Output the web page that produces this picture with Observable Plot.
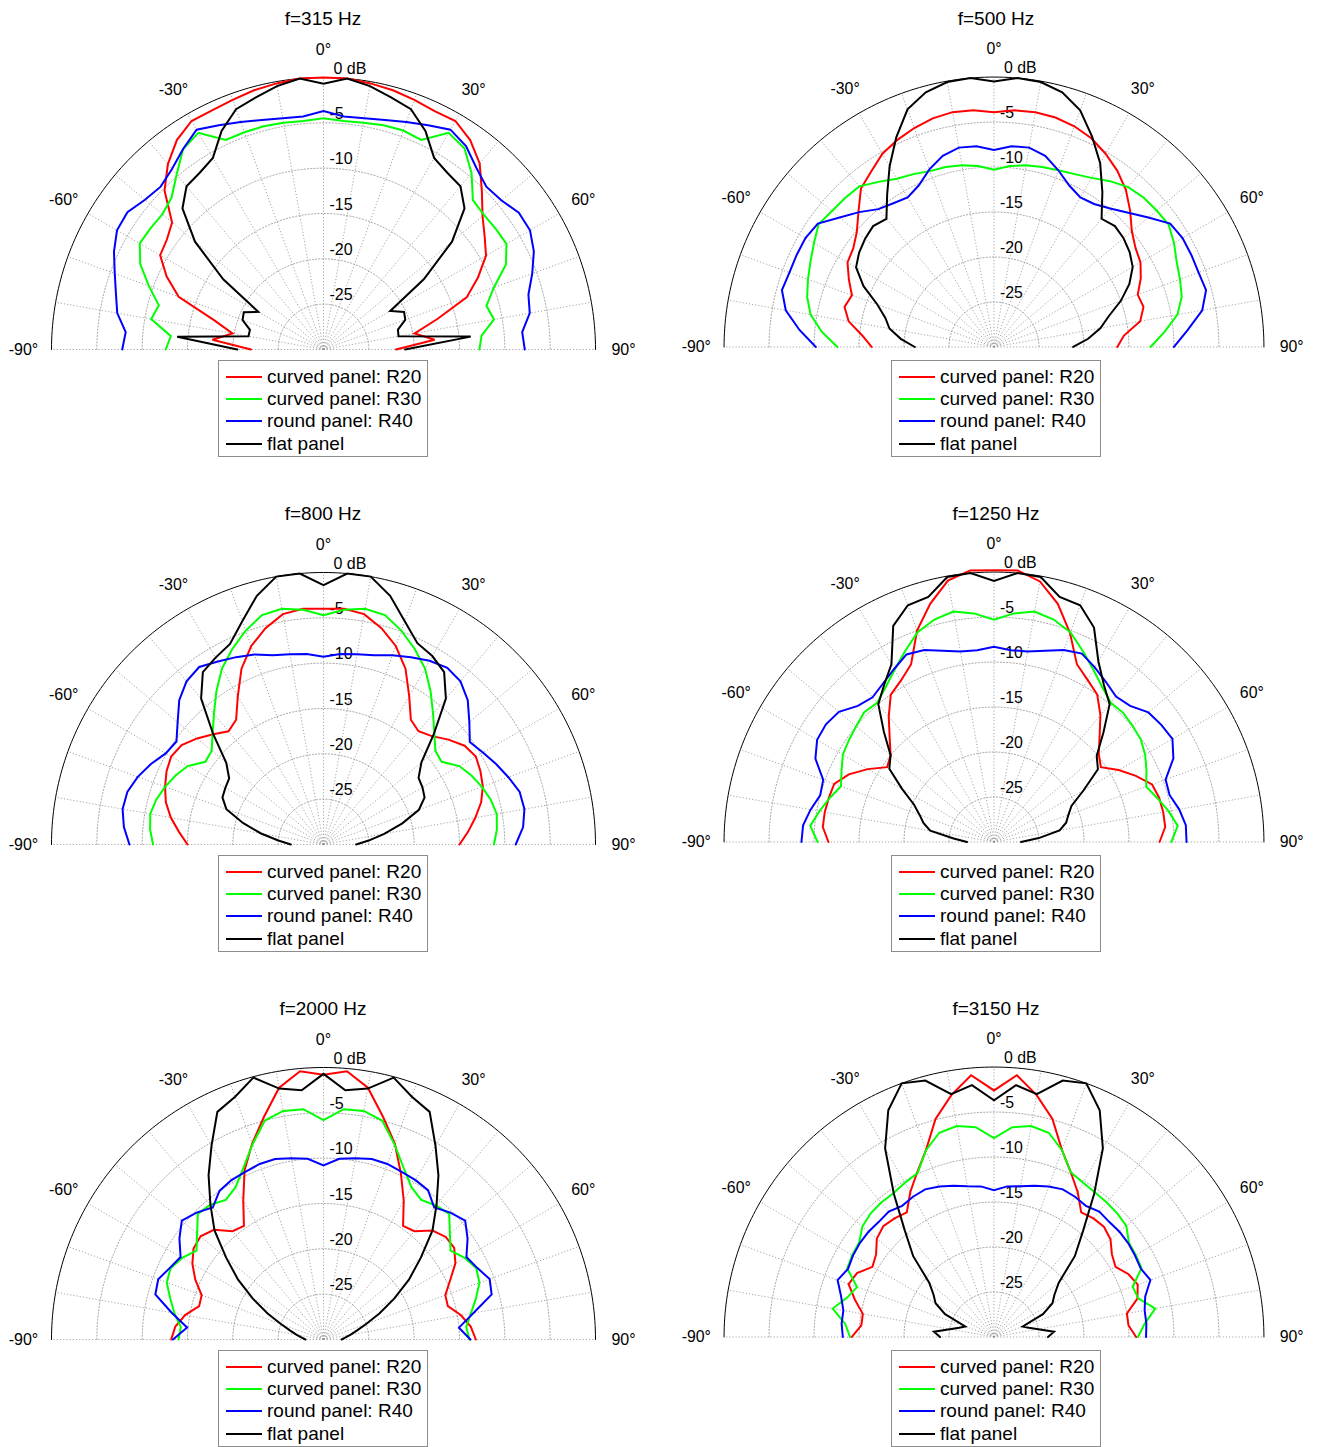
<!DOCTYPE html>
<html>
<head>
<meta charset="utf-8">
<script src="https://cdn.jsdelivr.net/npm/d3@7"></script>
<script src="https://cdn.jsdelivr.net/npm/@observablehq/plot@0.6"></script>
<style>
  html, body { margin: 0; padding: 0; background: #fff; }
  body { font-family: "Liberation Sans", Arial, Helvetica, sans-serif; color: #000; }
  #page { position: relative; width: 1321px; height: 1447px; overflow: hidden; background: #fff; }
  .ptitle { position: absolute; width: 300px; height: 22px; line-height: 22px; font-size: 19px; text-align: center; white-space: nowrap; }
  .pplot { position: absolute; }
  .pplot svg { overflow: visible; }
  .legend { position: absolute; box-sizing: border-box; border: 1px solid #8c8c8c; background: #fff; padding-top: 5px; }
  .legend .row { display: flex; align-items: center; height: 22.4px; font-size: 19px; white-space: nowrap; }
  .legend .sw { display: inline-block; width: 36px; height: 2px; margin-left: 7px; margin-right: 5px; }
</style>
</head>
<body>
<div id="page"></div>
<script>
// ---------------- data ----------------
const angles = [-90,-85,-80,-75,-70,-65,-60,-55,-50,-45,-40,-35,-30,-25,-20,-15,-10,-5,0,5,10,15,20,25,30,35,40,45,50,55,60,65,70,75,80,85,90];
const frequencies = [315, 500, 800, 1250, 2000, 3150];
const seriesNames = ["curved panel: R20", "curved panel: R30", "round panel: R40", "flat panel"];
const seriesColors = ["#ff0000", "#00ff00", "#0000ff", "#000000"];
const spokeAngles = [-90,-80,-70,-60,-50,-40,-30,-20,-10,0,10,20,30,40,50,60,70,80,90];
const ringLevels = [-25, -20, -15, -10, -5];
const outerLevel = [0];
const dBMin = -30;
const ringLabelLevels = [-5, -10, -15, -20, -25];
const ringLabels = ["-5", "-10", "-15", "-20", "-25"];
const topLabel = ["0 dB"];
const angleTickValues = [-90, -60, -30, 0, 30, 60, 90];
const angleTickLabels = ["-90°", "-60°", "-30°", "0°", "30°", "60°", "90°"];

// f = 315 Hz
const f315_R20  = [-22,-17.7,-19.8,-17.5,-13.0,-10.9,-9.2,-8.9,-8.2,-5.2,-3.3,-1.8,-0.9,-0.9,-0.7,-0.4,-0.2,0, 0, 0,-0.2,-0.4,-0.7,-1.0,-0.9,-1.8,-3.2,-5.3,-7.1,-8.3,-9.3,-11.2,-13.2,-17.0,-19.8,-17.7,-22];
const f315_R30  = [-12.6,-13.1,-10.7,-11.2,-9.5,-7.7,-6.6,-6.7,-6.8,-6.3,-4.8,-3.0,-2.4,-4.5,-4.5,-4.5,-4.6,-4.7, -4.5, -4.7,-4.6,-4.4,-4.3,-4.5,-2.4,-2.9,-4.6,-6.7,-6.9,-6.8,-6.7,-7.8,-10.0,-11.4,-10.9,-12.5,-12.8];
const f315_R40  = [-7.8,-8.1,-6.9,-6.3,-5.5,-4.5,-3.7,-3.6,-4.3,-4.6,-4.0,-3.0,-2.0,-2.7,-3.3,-3.8,-4.1,-4.2, -3.7, -4.2,-4.1,-3.8,-3.3,-2.7,-2.0,-2.6,-3.8,-4.6,-4.4,-3.7,-3.7,-4.4,-5.5,-6.6,-6.9,-8.0,-7.8];
const f315_flat = [-20.5,-13.8,-21.6,-21.6,-20.5,-20.3,-21.7,-16.5,-11.5,-8.0,-6.5,-6.2,-5.6,-3.4,-1.8,-1.2,-0.5,0, -0.7, 0,-0.5,-1.2,-1.8,-3.4,-5.6,-6.2,-6.5,-8.0,-11.5,-16.5,-21.5,-20.2,-20.4,-21.5,-21.6,-13.7,-21.0];

// f = 500 Hz
const f500_R20  = [-16.4,-15.3,-13.6,-12.8,-13.2,-12.2,-11.2,-10.9,-10.1,-8.7,-7.0,-6.2,-5.2,-4.6,-4.1,-3.7,-3.5,-3.6, -3.9, -3.6,-3.5,-3.6,-3.9,-4.4,-5.2,-6.1,-7.2,-8.6,-10.0,-10.8,-11.2,-12.0,-13.0,-12.8,-13.5,-15.5,-16.3];
const f500_R30  = [-12.6,-10.8,-9.3,-8.5,-8.0,-7.5,-6.9,-6.2,-6.5,-6.6,-6.7,-7.6,-8.4,-8.8,-9.2,-9.3,-9.5,-9.8, -10.3, -9.8,-9.5,-9.3,-9.1,-8.8,-8.3,-7.5,-6.8,-6.5,-6.4,-6.3,-6.9,-7.6,-8.0,-8.4,-9.3,-11.0,-12.6];
const f500_R40  = [-10.2,-8.3,-6.5,-5.6,-5.8,-5.8,-5.8,-6.1,-7.6,-8.8,-10.0,-10.5,-10.8,-10.2,-9.0,-8.0,-7.5,-7.6, -8.1, -7.6,-7.5,-8.0,-9.1,-10.2,-10.8,-10.6,-9.9,-8.9,-7.6,-6.1,-5.8,-5.8,-5.8,-5.6,-6.5,-8.4,-10.0];
const f500_flat = [-21.2,-19.6,-18.2,-17.5,-16.2,-14.0,-12.3,-11.7,-11.3,-11.0,-11.4,-9.3,-6.8,-4.3,-1.9,-0.7,-0.1,0, -0.5, 0,-0.1,-0.7,-2.0,-4.2,-6.4,-9.0,-11.4,-11.0,-11.2,-11.6,-12.2,-13.4,-15.0,-16.8,-18.0,-19.5,-21.2];

// f = 800 Hz
const f800_R20  = [-15.0,-14.0,-12.9,-12.0,-11.4,-10.9,-10.6,-10.9,-11.8,-12.8,-13.7,-13.2,-11.1,-8.6,-6.7,-5.3,-4.2,-3.9, -4.0, -3.9,-4.2,-5.3,-6.7,-8.6,-11.1,-13.2,-13.7,-13.1,-12.0,-11.0,-10.6,-10.9,-11.3,-12.0,-13.0,-14.0,-15.0];
const f800_R30  = [-11.2,-10.8,-10.6,-10.9,-11.4,-12.0,-12.7,-14.1,-13.9,-12.7,-11.2,-9.4,-7.6,-6.2,-4.9,-3.8,-3.6,-4.0, -4.7, -4.0,-3.6,-3.8,-4.9,-6.2,-7.6,-9.4,-11.2,-12.7,-13.9,-14.1,-12.7,-12.0,-11.4,-10.9,-10.6,-10.8,-11.2];
const f800_R40  = [-8.6,-7.9,-7.5,-7.6,-8.2,-9.0,-9.9,-10.2,-9.0,-7.5,-6.5,-6.1,-6.7,-7.2,-7.7,-8.4,-8.7,-8.9, -9.3, -8.9,-8.7,-8.4,-7.8,-7.2,-6.6,-6.2,-6.5,-7.5,-9.0,-10.3,-9.7,-9.0,-8.3,-7.6,-7.5,-7.9,-8.8];
const f800_flat = [-26.4,-25.0,-23.0,-20.8,-18.6,-17.7,-17.5,-17.3,-16.0,-12.8,-9.0,-6.8,-6.2,-5.6,-3.8,-1.6,0,0, -1.4, 0,0,-1.6,-3.8,-5.5,-6.0,-6.8,-9.0,-12.8,-15.9,-17.2,-17.4,-17.7,-18.8,-21.0,-23.2,-25.0,-26.4];

// f = 1250 Hz
const f1250_R20  = [-11.6,-10.9,-10.9,-11.0,-11.1,-12.2,-13.8,-15.5,-15.0,-13.6,-11.8,-10.0,-9.3,-8.2,-5.0,-2.6,-0.5,0.3, 0.2, 0.3,-0.6,-2.6,-5.3,-8.2,-9.2,-10.0,-11.6,-13.4,-14.8,-15.5,-14.0,-12.6,-11.3,-11.0,-10.9,-10.9,-11.6];
const f1250_R30  = [-10.4,-9.5,-10.3,-11.1,-11.9,-11.3,-10.6,-10.3,-10.0,-9.6,-9.8,-9.0,-7.9,-6.6,-5.2,-4.4,-4.0,-4.5, -5.3, -4.5,-4.0,-4.4,-5.2,-6.6,-7.9,-9.0,-9.8,-9.7,-9.9,-10.1,-10.6,-11.3,-12.0,-11.2,-10.3,-9.5,-10.3];
const f1250_R40  = [-8.6,-8.7,-9.3,-10.0,-9.8,-8.1,-7.3,-7.2,-7.5,-8.6,-9.0,-8.5,-7.8,-7.0,-7.3,-8.0,-8.5,-8.6, -8.3, -8.6,-8.5,-8.0,-7.3,-6.9,-7.6,-8.3,-8.9,-8.6,-7.6,-7.3,-7.1,-8.0,-9.7,-9.8,-9.1,-8.6,-8.6];
const f1250_flat = [-27.0,-25.5,-22.8,-21.9,-21.2,-20.2,-18.2,-15.8,-15.0,-12.7,-10.0,-8.7,-7.2,-3.5,-2.0,-1.8,-0.1,0, -1.0, 0,-0.1,-1.8,-2.0,-3.7,-6.8,-8.7,-10.0,-12.8,-15.1,-15.9,-18.5,-20.5,-21.2,-21.7,-22.6,-25.0,-27.0];

// f = 2000 Hz
const f2000_R20  = [-13.2,-13.6,-14.5,-15.8,-15.7,-14.4,-13.3,-12.5,-12.3,-12.9,-14.4,-14.7,-12.3,-9.4,-7.0,-4.6,-1.8,-0.3, -0.8, -0.3,-1.8,-4.6,-7.0,-9.8,-12.3,-14.7,-14.4,-13.0,-12.4,-12.4,-13.2,-14.6,-15.7,-15.8,-14.6,-13.7,-13.2];
const f2000_R30  = [-14.0,-14.2,-13.3,-12.5,-11.6,-11.4,-12.0,-12.9,-11.8,-10.4,-10.6,-11.2,-10.6,-9.1,-7.1,-5.0,-4.4,-4.5, -5.8, -4.5,-4.4,-5.0,-7.1,-9.1,-10.6,-11.2,-10.7,-10.4,-11.8,-12.9,-12.0,-11.4,-11.7,-12.6,-13.5,-14.2,-13.9];
const f2000_R40  = [-13.4,-14.9,-13.0,-10.8,-10.6,-11.3,-11.8,-10.6,-9.6,-10.2,-11.0,-10.0,-9.7,-9.6,-9.4,-9.4,-9.7,-10.0, -10.8, -10.0,-9.7,-9.4,-9.4,-9.6,-9.7,-9.9,-11.0,-10.2,-9.6,-10.6,-11.8,-11.3,-10.5,-10.8,-13.2,-15.0,-13.8];
const f2000_flat = [-28.0,-27.6,-27.0,-26.2,-25.0,-23.2,-21.0,-18.5,-16.0,-13.0,-10.6,-7.9,-5.3,-2.3,-1.5,-0.1,-1.9,-2.4, -0.7, -2.4,-1.9,-0.1,-1.5,-2.3,-5.3,-7.9,-10.6,-13.0,-16.0,-18.5,-21.0,-23.2,-25.0,-26.2,-27.0,-27.6,-28.0];

// f = 3150 Hz
const f3150_R20  = [-14.2,-15.2,-15.2,-14.0,-12.8,-13.2,-14.4,-14.0,-13.0,-12.6,-12.8,-13.1,-11.4,-9.8,-7.9,-4.9,-2.7,-0.8, -2.6, -0.8,-2.7,-4.9,-7.9,-9.8,-11.4,-13.1,-12.8,-12.7,-13.1,-14.0,-14.4,-13.5,-13.0,-13.5,-15.0,-15.0,-14.2];
const f3150_R30  = [-14.0,-13.4,-11.8,-13.1,-13.8,-12.0,-11.8,-11.7,-10.9,-10.6,-10.5,-10.5,-10.2,-9.9,-7.9,-6.5,-6.2,-6.6, -7.9, -6.6,-6.2,-6.5,-7.9,-9.8,-10.2,-10.4,-10.5,-10.6,-10.8,-11.7,-11.8,-11.9,-13.6,-13.4,-11.8,-13.2,-14.0];
const f3150_R40  = [-13.2,-13.0,-13.0,-12.4,-11.5,-12.1,-11.9,-11.8,-11.8,-11.9,-11.8,-12.2,-12.0,-11.9,-12.2,-12.6,-13.0,-13.2, -13.7, -13.2,-13.0,-12.6,-12.2,-11.9,-12.0,-12.2,-11.8,-11.9,-11.8,-11.8,-11.9,-12.0,-11.5,-12.6,-13.0,-13.0,-13.1];
const f3150_flat = [-24.0,-23.3,-25.0,-26.0,-26.6,-24.0,-22.5,-21.8,-20.6,-17.3,-14.6,-10.6,-5.8,-2.2,0,-0.5,-2.6,-1.9, -3.7, -1.9,-2.6,-0.5,0,-2.2,-5.8,-10.6,-14.6,-17.3,-20.6,-21.8,-22.5,-24.0,-26.6,-26.0,-25.0,-23.3,-24.0];

const panelSeries = [
  [f315_R20, f315_R30, f315_R40, f315_flat],
  [f500_R20, f500_R30, f500_R40, f500_flat],
  [f800_R20, f800_R30, f800_R40, f800_flat],
  [f1250_R20, f1250_R30, f1250_R40, f1250_flat],
  [f2000_R20, f2000_R30, f2000_R40, f2000_flat],
  [f3150_R20, f3150_R30, f3150_R40, f3150_flat]
];

// ---------------- layout ----------------
const colCenters = [323, 996];
const rowCenters = [349, 844, 1339];
const pxPerDb = 272 / 30;          // 0 dB ring radius = 272 px
const W = 660, H = 345, CX = 330, CY = 330;
const labelRadius = 300 / pxPerDb;  // angle labels

const rad = d => d * Math.PI / 180;
function polar(angleDeg, dB) {
  const r = Math.max(0, dB - dBMin);
  return {x: r * Math.sin(rad(angleDeg)), y: r * Math.cos(rad(angleDeg))};
}
const arcSteps = d3.range(-90, 90.01, 1);
function ringPoints(levels) {
  const pts = [];
  for (const lv of levels) for (const a of arcSteps) pts.push({...polar(a, lv), lv});
  return pts;
}
const gridColor = "#8f8f8f";
const fontFamily = '"Liberation Sans", Arial, Helvetica, sans-serif';

function makePanel(series) {
  const marks = [
    Plot.link(spokeAngles, {
      x1: () => 0, y1: () => 0,
      x2: a => polar(a, 0).x, y2: a => polar(a, 0).y,
      stroke: gridColor, strokeWidth: 0.8, strokeDasharray: "1.2,2"
    }),
    Plot.line(ringPoints(ringLevels), {x: "x", y: "y", z: "lv", stroke: gridColor, strokeWidth: 0.8, strokeDasharray: "1.2,2"}),
    Plot.line(ringPoints(outerLevel), {x: "x", y: "y", z: "lv", stroke: "#000", strokeWidth: 1}),
    Plot.text(angleTickValues, {
      x: a => labelRadius * Math.sin(rad(a)), y: a => labelRadius * Math.cos(rad(a)),
      text: (a, i) => angleTickLabels[i], textAnchor: "middle", lineAnchor: "middle",
      fontSize: 16, fill: "#000", ariaLabel: "angle-labels"
    }),
    Plot.text(topLabel, {x: () => 0, y: () => 0 - dBMin, text: d => d, textAnchor: "start", lineAnchor: "bottom", dx: 10, dy: -4, fontSize: 16, fill: "#000"}),
    Plot.text(ringLabelLevels, {x: () => 0, y: d => d - dBMin, text: (d, i) => ringLabels[i], textAnchor: "start", lineAnchor: "bottom", dx: 6, dy: -4, fontSize: 16, fill: "#000"})
  ];
  series.forEach((vals, si) => {
    const pts = angles.map((a, i) => polar(a, vals[i]));
    marks.push(Plot.line(pts, {x: "x", y: "y", stroke: seriesColors[si], strokeWidth: 2, strokeLinejoin: "miter", strokeMiterlimit: 3}));
  });
  const svg = Plot.plot({
    width: W, height: H,
    marginTop: 0, marginRight: 0, marginBottom: 0, marginLeft: 0,
    x: {domain: [-CX / pxPerDb, (W - CX) / pxPerDb], axis: null},
    y: {domain: [-(H - CY) / pxPerDb, CY / pxPerDb], axis: null},
    style: {fontFamily, fontSize: "16px", overflow: "visible", background: "transparent", color: "#000"},
    marks
  });
  // superscript "o" for degree labels
  svg.querySelectorAll('g[aria-label="angle-labels"] text').forEach(t => {
    const s = t.textContent;
    if (s.endsWith("°")) {
      t.textContent = s.slice(0, -1);
      const ts = document.createElementNS("http://www.w3.org/2000/svg", "tspan");
      ts.setAttribute("dy", "-0.45em");
      ts.setAttribute("font-size", "11px");
      ts.textContent = "o";
      t.appendChild(ts);
    }
  });
  return svg;
}

const page = document.getElementById("page");
frequencies.forEach((f, p) => {
  const cx = colCenters[p % 2];
  const cy = rowCenters[Math.floor(p / 2)];

  const title = document.createElement("div");
  title.className = "ptitle";
  title.style.left = (cx - 150) + "px";
  title.style.top = (cy - 340.6) + "px";
  title.textContent = `f=${f} Hz`;
  page.appendChild(title);

  const holder = document.createElement("div");
  holder.className = "pplot";
  holder.style.left = (cx - CX) + "px";
  holder.style.top = (cy - CY) + "px";
  holder.appendChild(makePanel(panelSeries[p]));
  page.appendChild(holder);

  const leg = document.createElement("div");
  leg.className = "legend";
  leg.style.left = (cx - 105) + "px";
  leg.style.top = (cy + 10.5) + "px";
  leg.style.width = "210px";
  leg.style.height = "97px";
  seriesNames.forEach((name, i) => {
    const row = document.createElement("div");
    row.className = "row";
    const sw = document.createElement("span");
    sw.className = "sw";
    sw.style.background = seriesColors[i];
    const tx = document.createElement("span");
    tx.textContent = name;
    row.appendChild(sw);
    row.appendChild(tx);
    leg.appendChild(row);
  });
  page.appendChild(leg);
});
</script>
</body>
</html>
